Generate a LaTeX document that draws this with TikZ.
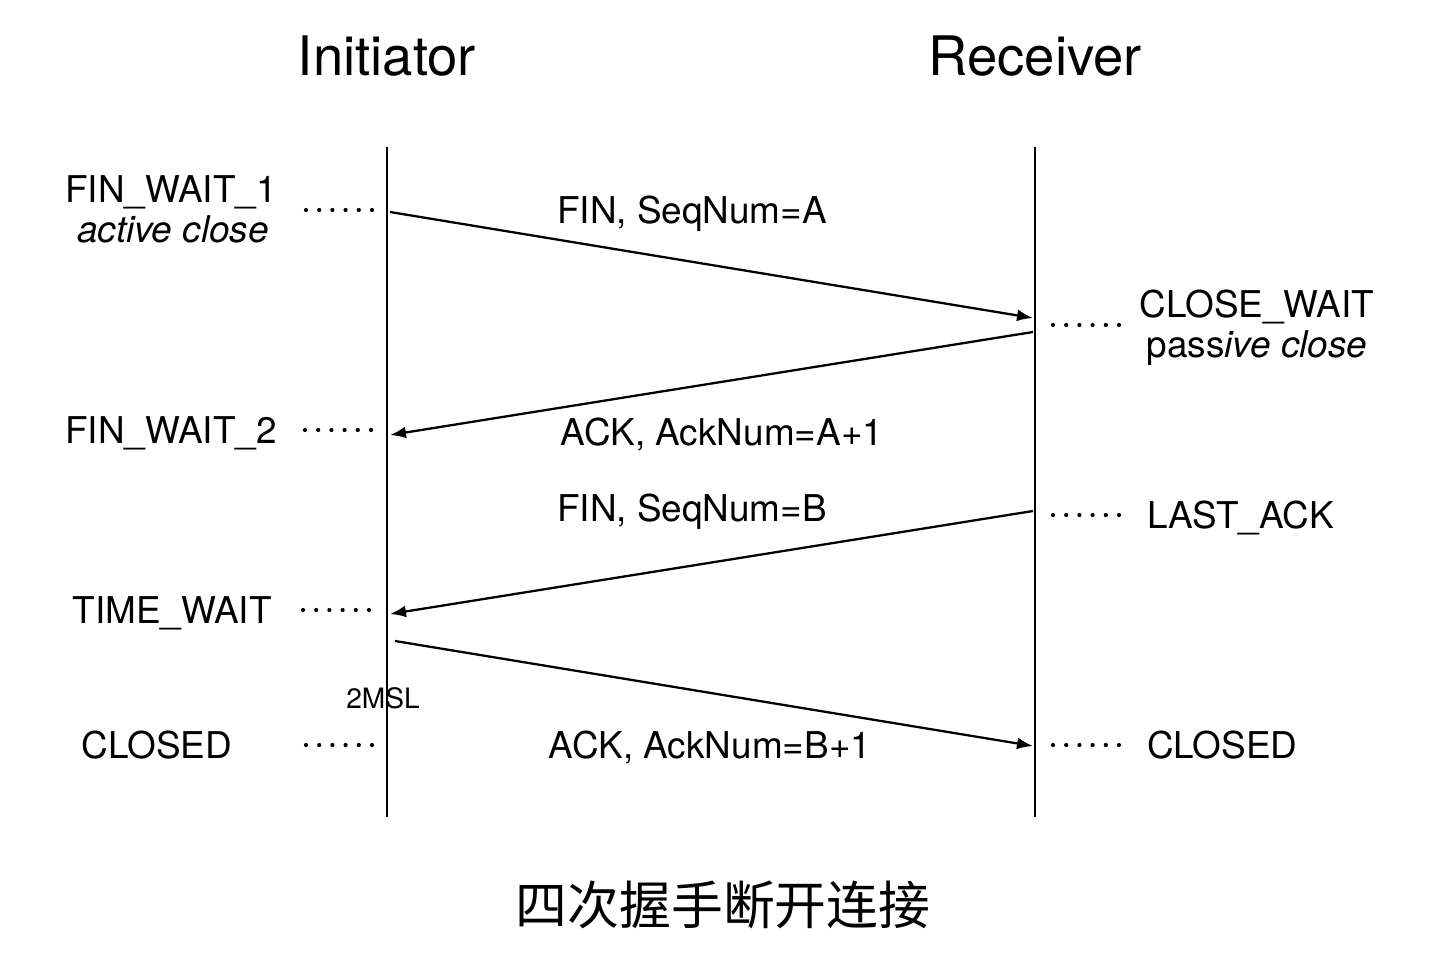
\documentclass[tikz,border=0pt]{standalone}
\usepackage{fontspec}
\setmainfont{TeX Gyre Heros}
\newfontfamily\cjk{Noto Sans CJK SC}
\usetikzlibrary{arrows.meta}

\begin{document}
\begin{tikzpicture}[x=0.02cm,y=-0.02cm,
	head/.style={anchor=base,font=\fontsize{31}{34}\selectfont},
	state/.style={anchor=base,font=\fontsize{21}{24}\selectfont},
	msg/.style={anchor=base,font=\fontsize{21}{24}\selectfont},
	lifeline/.style={line width=1.6pt},
	signal/.style={line width=1.3pt,-{Latex[length=0.32cm,width=0.24cm]}},
	dotline/.style={line width=2.4pt,line cap=round,dash pattern=on 0pt off 0.264cm}]

	\useasboundingbox (0,0) rectangle (1430,970);

	\node (I) [head] at (387,75) {Initiator};
	\node (R) [head] at (1035,75) {Receiver};

	\coordinate (Itop) at (387,147);
	\coordinate (Ibot) at (387,817);
	\coordinate (Rtop) at (1035,147);
	\coordinate (Rbot) at (1035,817);
	\draw [lifeline] (Itop) to (Ibot);
	\draw [lifeline] (Rtop) to (Rbot);

	% states of the initiator
	\node (a) [state] at (171,202) {FIN\_WAIT\_1};
	\node (b) [state] at (173,242) {\itshape active close};
	\node (c) [state] at (171,443) {FIN\_WAIT\_2};
	\node (d) [state] at (172,623) {TIME\_WAIT};
	\node (e) [state] at (157,758) {CLOSED};
	\node (f) [anchor=base,font=\fontsize{16}{18}\selectfont] at (383,708) {2MSL};

	% states of the receiver
	\node (g) [state] at (1257,317) {CLOSE\_WAIT};
	\node (h) [state] at (1257,357) {pass\textit{ive close}};
	\node (i) [state,anchor=base west] at (1141,528) {LAST\_ACK};
	\node (j) [state,anchor=base west] at (1141,758) {CLOSED};

	% messages
	\node (A) [msg] at (692,223) {FIN, SeqNum=A};
	\node (B) [msg] at (722,445) {ACK, AckNum=A+1};
	\node (C) [msg] at (692,521) {FIN, SeqNum=B};
	\node (D) [msg] at (710,758) {ACK, AckNum=B+1};

	\node (T) [font=\cjk\fontsize{29.5}{32}\selectfont] at (723,905) {四次握手断开连接};

	\coordinate (I1) at (390,212);
	\coordinate (R1) at (1033,318);
	\coordinate (R2) at (1033,332);
	\coordinate (I2) at (390,435);
	\coordinate (R3) at (1033,511);
	\coordinate (I3) at (390,614);
	\coordinate (I4) at (395,641);
	\coordinate (R4) at (1033,746);
	\draw [signal] (I1) to (R1);
	\draw [signal] (R2) to (I2);
	\draw [signal] (R3) to (I3);
	\draw [signal] (I4) to (R4);

	% dotted leaders
	\coordinate (p1) at (306,210);
	\coordinate (q1) at (372,210);
	\coordinate (p2) at (305,430);
	\coordinate (q2) at (371,430);
	\coordinate (p3) at (303,610);
	\coordinate (q3) at (369,610);
	\coordinate (p4) at (306,745);
	\coordinate (q4) at (372,745);
	\coordinate (p5) at (1053,325);
	\coordinate (q5) at (1119,325);
	\coordinate (p6) at (1053,515);
	\coordinate (q6) at (1119,515);
	\coordinate (p7) at (1053,745);
	\coordinate (q7) at (1119,745);
	\foreach \k in {1,...,7}
		\draw [dotline] (p\k) to (q\k);

\end{tikzpicture}
\end{document}
